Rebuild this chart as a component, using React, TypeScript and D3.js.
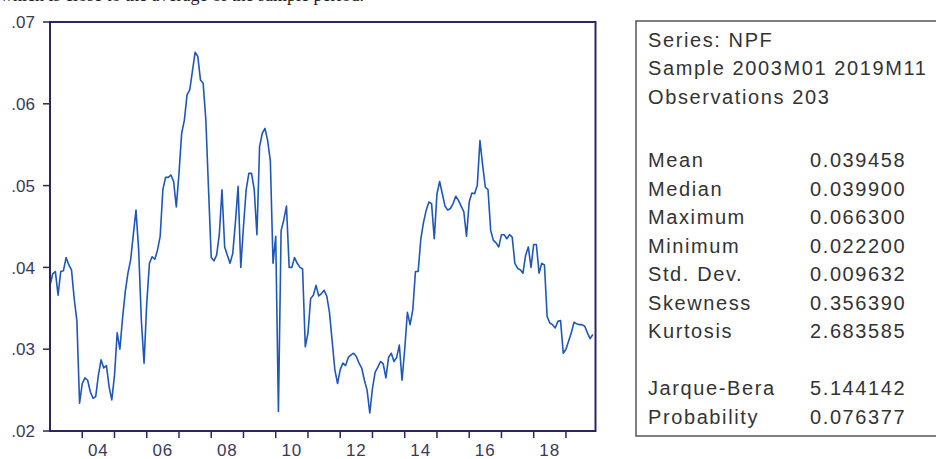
import React from "react";
import * as d3 from "d3";

// NPF monthly, 2003M01 .. 2019M11 (203 obs)
const npf = [
  0.0378, 0.0392, 0.0395, 0.0366, 0.0395, 0.0396, 0.0412, 0.0403, 0.0397, 0.0362, 0.0335, 0.0234,
  0.0258, 0.0265, 0.0262, 0.0248, 0.024, 0.0242, 0.0268, 0.0287, 0.0277, 0.028, 0.0254, 0.0238,
  0.0268, 0.032, 0.03, 0.0338, 0.037, 0.0393, 0.0409, 0.044, 0.047, 0.0421, 0.0335, 0.0283,
  0.0356, 0.0405, 0.0413, 0.041, 0.0421, 0.0438, 0.0495, 0.051, 0.051, 0.0513, 0.0505, 0.0474,
  0.0515, 0.0564, 0.058, 0.0611, 0.0617, 0.064, 0.0663, 0.0658, 0.0629, 0.0625, 0.058, 0.0495,
  0.0412, 0.0408, 0.0415, 0.044, 0.0495, 0.0425, 0.0415, 0.0405, 0.0417, 0.0455, 0.0499, 0.04,
  0.045, 0.0495, 0.0515, 0.0515, 0.0495, 0.044, 0.0548, 0.0564, 0.057, 0.0555, 0.053, 0.0405,
  0.0438, 0.0224, 0.0445, 0.0458, 0.0475, 0.04, 0.04, 0.0412, 0.0405, 0.04, 0.0398, 0.0303,
  0.032, 0.0362, 0.0366, 0.0378, 0.0365, 0.0368, 0.0372, 0.0365, 0.0345, 0.031, 0.0275, 0.0258,
  0.0275, 0.0283, 0.028, 0.029, 0.0293, 0.0295, 0.0291, 0.0283, 0.0277, 0.0262, 0.025, 0.0222,
  0.0252, 0.0272, 0.0278, 0.0285, 0.0282, 0.0265, 0.029, 0.0295, 0.0285, 0.029, 0.0305, 0.0262,
  0.03, 0.0345, 0.033, 0.0348, 0.0395, 0.0395, 0.0435, 0.0455, 0.047, 0.048, 0.0478, 0.0435,
  0.049, 0.0505, 0.049, 0.0475, 0.047, 0.0472, 0.0478, 0.0487, 0.0482, 0.0475, 0.0468, 0.0438,
  0.048, 0.0491, 0.049, 0.05, 0.0555, 0.0525, 0.0498, 0.0495, 0.0445, 0.0433, 0.043, 0.0425,
  0.044, 0.044, 0.0435, 0.044, 0.0437, 0.0405, 0.0399, 0.0397, 0.0393, 0.0415, 0.0425, 0.04,
  0.0428, 0.0428, 0.0393, 0.0405, 0.0403, 0.034, 0.0332, 0.033, 0.0326, 0.0334, 0.0335, 0.0295,
  0.03, 0.031, 0.032, 0.0333, 0.0331, 0.033, 0.033, 0.0328, 0.032, 0.0313, 0.0318,
];

const firstYear = 2003;
const yTicks = [0.02, 0.03, 0.04, 0.05, 0.06, 0.07];
const yearTicks = d3.range(2004, 2020);
const yearLabels = ["04", "06", "08", "10", "12", "14", "16", "18"];

const headerLines = ["Series: NPF", "Sample 2003M01 2019M11", "Observations 203"];
const statLabels = ["Mean", "Median", "Maximum", "Minimum", "Std. Dev.", "Skewness", "Kurtosis"];
const statValues = ["0.039458", "0.039900", "0.066300", "0.022200", "0.009632", "0.356390", "2.683585"];
const testLabels = ["Jarque-Bera", "Probability"];
const testValues = ["5.144142", "0.076377"];

// caption of the page, mostly cut off by the crop
const caption = "which is close to the average of the sample period.";

export default function App() {
  // plot frame
  const left = 50, right = 595.5, top = 22, bottom = 431;

  var x = d3.scaleLinear().domain([0, npf.length]).range([left, right]);
  var y = d3.scaleLinear().domain([0.02, 0.07]).range([bottom, top]);

  var line = d3
    .line<number>()
    .x((d, i) => x(i))
    .y(d => y(d));

  const axisColor = "#2e2560";
  const labelColor = "#3a3a5a";
  const sans = "'Liberation Sans', Arial, sans-serif";

  // month index of a year start
  const yearPos = (yr: number) => (yr - firstYear) * 12;

  return (
    <div style={{ position: "absolute", left: 0, top: 0 }}>
      <svg width={936} height={459} style={{ display: "block", background: "#fff" }}>
        <text x={0} y={1} fontFamily="'Liberation Serif', 'Times New Roman', serif" fontSize={18} fill="#222">
          {caption}
        </text>

        {/* series */}
        <path d={line(npf) || ""} fill="none" stroke="#1f57b8" strokeWidth={1.6} strokeLinejoin="round" />

        {/* frame */}
        <rect x={left} y={top} width={right - left} height={bottom - top} fill="none" stroke={axisColor} strokeWidth={2} />

        {/* y axis */}
        {yTicks.map(t => (
          <g key={"y" + t}>
            <line x1={left - 7} x2={left} y1={y(t)} y2={y(t)} stroke={axisColor} strokeWidth={1.5} />
            <text
              x={left - 15}
              y={y(t)}
              dy="0.36em"
              textAnchor="end"
              fontFamily={sans}
              fontSize={17}
              fill={labelColor}
            >
              {d3.format(".2f")(t).replace(/^0/, "")}
            </text>
          </g>
        ))}

        {/* x axis */}
        {yearTicks.map(yr => (
          <line
            key={"x" + yr}
            x1={x(yearPos(yr))}
            x2={x(yearPos(yr))}
            y1={bottom}
            y2={bottom + 7}
            stroke={axisColor}
            strokeWidth={1.5}
          />
        ))}
        {yearLabels.map(lb => (
          <text
            key={"l" + lb}
            x={x(yearPos(2000 + Number(lb)) + 6)}
            y={456}
            textAnchor="middle"
            fontFamily={sans}
            fontSize={17}
            letterSpacing={1}
            fill={labelColor}
          >
            {lb}
          </text>
        ))}

        {/* statistics box */}
        <rect x={636} y={21} width={310} height={415} fill="#fff" stroke="#555" strokeWidth={1.5} />
        <g fontFamily={sans} fontSize={20} fill="#333" letterSpacing={1.6}>
          {headerLines.map((s, k) => (
            <text key={s} x={648} y={47 + 28.3 * k}>
              {s}
            </text>
          ))}
          {statLabels.map((s, k) => (
            <g key={s}>
              <text x={648} y={167 + 28.5 * k}>
                {s}
              </text>
              <text x={810} y={167 + 28.5 * k}>
                {statValues[k]}
              </text>
            </g>
          ))}
          {testLabels.map((s, k) => (
            <g key={s}>
              <text x={648} y={167 + 28.5 * (k + 8)}>
                {s}
              </text>
              <text x={810} y={167 + 28.5 * (k + 8)}>
                {testValues[k]}
              </text>
            </g>
          ))}
        </g>
      </svg>
    </div>
  );
}
